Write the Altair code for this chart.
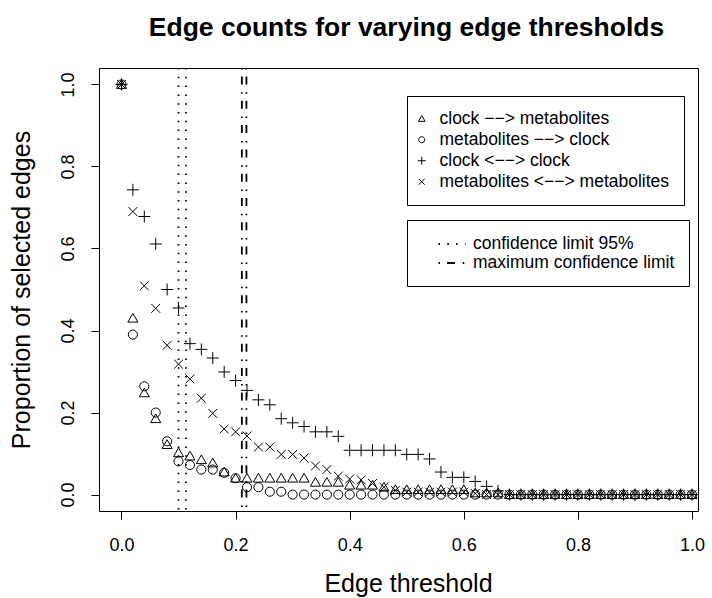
import altair as alt
import pandas as pd

# ---- data ----
thresholds = [0.00, 0.02, 0.04, 0.06, 0.08, 0.10, 0.12, 0.14, 0.16, 0.18,
              0.20, 0.22, 0.24, 0.26, 0.28, 0.30, 0.32, 0.34, 0.36, 0.38,
              0.40, 0.42, 0.44, 0.46, 0.48, 0.50, 0.52, 0.54, 0.56, 0.58,
              0.60, 0.62, 0.64, 0.66, 0.68, 0.70, 0.72, 0.74, 0.76, 0.78,
              0.80, 0.82, 0.84, 0.86, 0.88, 0.90, 0.92, 0.94, 0.96, 0.98, 1.00]

clock_to_metabolites = [1.0, 0.43, 0.248, 0.185, 0.122, 0.102, 0.094, 0.085, 0.077, 0.055,
                        0.04, 0.04, 0.04, 0.04, 0.04, 0.04, 0.04, 0.03, 0.03, 0.03,
                        0.023, 0.023, 0.023, 0.018, 0.012, 0.012, 0.012, 0.012, 0.012, 0.012,
                        0.012, 0.004, 0.004, 0.004, 0.0, 0.0, 0.0, 0.0, 0.0, 0.0,
                        0.0, 0.0, 0.0, 0.0, 0.0, 0.0, 0.0, 0.0, 0.0, 0.0, 0.0]

metabolites_to_clock = [1.0, 0.39, 0.264, 0.2, 0.13, 0.081, 0.072, 0.061, 0.061, 0.053,
                        0.04, 0.018, 0.018, 0.007, 0.007, 0.0, 0.0, 0.0, 0.0, 0.0,
                        0.0, 0.0, 0.0, 0.0, 0.0, 0.0, 0.0, 0.0, 0.0, 0.0,
                        0.0, 0.0, 0.0, 0.0, 0.0, 0.0, 0.0, 0.0, 0.0, 0.0,
                        0.0, 0.0, 0.0, 0.0, 0.0, 0.0, 0.0, 0.0, 0.0, 0.0, 0.0]

clock_clock = [1.0, 0.743, 0.678, 0.611, 0.5, 0.455, 0.368, 0.354, 0.333, 0.299,
               0.278, 0.254, 0.231, 0.219, 0.185, 0.175, 0.166, 0.153, 0.153, 0.142,
               0.108, 0.108, 0.108, 0.108, 0.108, 0.098, 0.098, 0.087, 0.055, 0.042,
               0.042, 0.032, 0.02, 0.009, 0.0, 0.0, 0.0, 0.0, 0.0, 0.0,
               0.0, 0.0, 0.0, 0.0, 0.0, 0.0, 0.0, 0.0, 0.0, 0.0, 0.0]

metabolites_metabolites = [1.0, 0.69, 0.509, 0.454, 0.364, 0.318, 0.282, 0.235, 0.198, 0.16,
                           0.153, 0.143, 0.116, 0.116, 0.098, 0.098, 0.089, 0.07, 0.061, 0.045,
                           0.038, 0.036, 0.027, 0.018, 0.01, 0.006, 0.006, 0.006, 0.006, 0.006,
                           0.006, 0.003, 0.0, 0.0, 0.0, 0.0, 0.0, 0.0, 0.0, 0.0,
                           0.0, 0.0, 0.0, 0.0, 0.0, 0.0, 0.0, 0.0, 0.0, 0.0, 0.0]

series_names = ["clock \u2212\u2212> metabolites",
                "metabolites \u2212\u2212> clock",
                "clock <\u2212\u2212> clock",
                "metabolites <\u2212\u2212> metabolites"]

limit_names = ["confidence limit 95%", "maximum confidence limit"]
limit_95 = [0.100, 0.113]
limit_max = [0.211, 0.219]

x_ticks = [0.0, 0.2, 0.4, 0.6, 0.8, 1.0]
y_ticks = [0.0, 0.2, 0.4, 0.6, 0.8, 1.0]

# ---- tables ----
rows = []
for name, vals in zip(series_names, [clock_to_metabolites, metabolites_to_clock,
                                     clock_clock, metabolites_metabolites]):
    for t, v in zip(thresholds, vals):
        rows.append({"threshold": t, "proportion": v, "series": name})
df = pd.DataFrame(rows)

lines = pd.DataFrame(
    [{"threshold": v, "kind": limit_names[0]} for v in limit_95]
    + [{"threshold": v, "kind": limit_names[1]} for v in limit_max]
)

# open R-like symbols as unit paths (scaled by sqrt(size)/2)
TRIANGLE = "M0,-0.8L0.84,0.65L-0.84,0.65Z"
CIRCLE = "M0.76,0A0.76,0.76,0,1,1,-0.76,0A0.76,0.76,0,1,1,0.76,0Z"
PLUS = "M-1,0L1,0M0,-1L0,1"
TIMES = "M-0.74,-0.74L0.74,0.74M-0.74,0.74L0.74,-0.74"
SEGMENT = "M-1.5,0L1.5,0"
FONT = "Liberation Sans"

x_scale = alt.Scale(domain=[-0.0394, 1.0105], nice=False, zero=False)
y_scale = alt.Scale(domain=[-0.04, 1.04], nice=False, zero=False)

x_enc = alt.X("threshold:Q", scale=x_scale,
              axis=alt.Axis(values=x_ticks, format=".1f", title="Edge threshold",
                            labelPadding=17, titleX=309, titleY=80,
                            titleAlign="center", titleBaseline="alphabetic"))

points = alt.Chart(df).mark_point(filled=False, color="black", strokeWidth=1,
                                  opacity=1, size=144).encode(
    x=x_enc,
    y=alt.Y("proportion:Q", scale=y_scale,
            axis=alt.Axis(values=y_ticks, format=".1f", title="Proportion of selected edges",
                          labelAngle=270, labelAlign="center", labelBaseline="alphabetic",
                          labelPadding=18, titleAngle=270, titleX=-70, titleY=221.5,
                          titleAlign="center", titleBaseline="alphabetic")),
    shape=alt.Shape("series:N",
                    scale=alt.Scale(domain=series_names,
                                    range=[TRIANGLE, CIRCLE, PLUS, TIMES]),
                    legend=alt.Legend(title=None, orient="none", legendX=308, legendY=28,
                                      strokeColor="black", fillColor="white", padding=14,
                                      symbolSize=64, symbolStrokeWidth=1,
                                      symbolStrokeColor="black", symbolFillColor="transparent",
                                      symbolOffset=-8,
                                      labelFontSize=17.5, labelFont=FONT, labelColor="black",
                                      labelLimit=400, labelOffset=9, rowPadding=2)),
)

rules = alt.Chart(lines).mark_rule(color="black", strokeWidth=1.8).encode(
    x=x_enc,
    strokeDash=alt.StrokeDash("kind:N",
                              scale=alt.Scale(domain=limit_names,
                                              range=[[1.5, 7.3], [1.5, 7, 8, 7.8]]),
                              legend=alt.Legend(title=None, orient="none", legendX=308, legendY=152,
                                                strokeColor="black", fillColor="white", padding=14,
                                                symbolType=SEGMENT, symbolSize=324,
                                                symbolStrokeWidth=1.8, symbolStrokeColor="black",
                                                symbolOffset=21, labelOffset=11,
                                                labelFontSize=17.5, labelFont=FONT,
                                                labelLimit=400, labelColor="black", rowPadding=0)),
)

chart = alt.layer(rules, points).properties(
    width=599,
    height=443,
    background="white",
    autosize=alt.AutoSizeParams(type="none"),
    padding={"left": 99, "top": 68, "right": 14, "bottom": 87},
    title=alt.TitleParams("Edge counts for varying edge thresholds", anchor="middle",
                          dx=8, offset=5, baseline="alphabetic", fontSize=26.5,
                          font=FONT, fontWeight="bold", color="black"),
).configure_view(
    stroke="black", strokeWidth=1
).configure_axis(
    grid=False, domain=False, ticks=True, tickColor="black", tickSize=8, tickWidth=1,
    labelColor="black", labelFont=FONT, labelFontSize=18,
    titleColor="black", titleFont=FONT, titleFontSize=25, titleFontWeight="normal",
)

chart.save("out.html", embed_options={"renderer": "svg", "actions": False})
